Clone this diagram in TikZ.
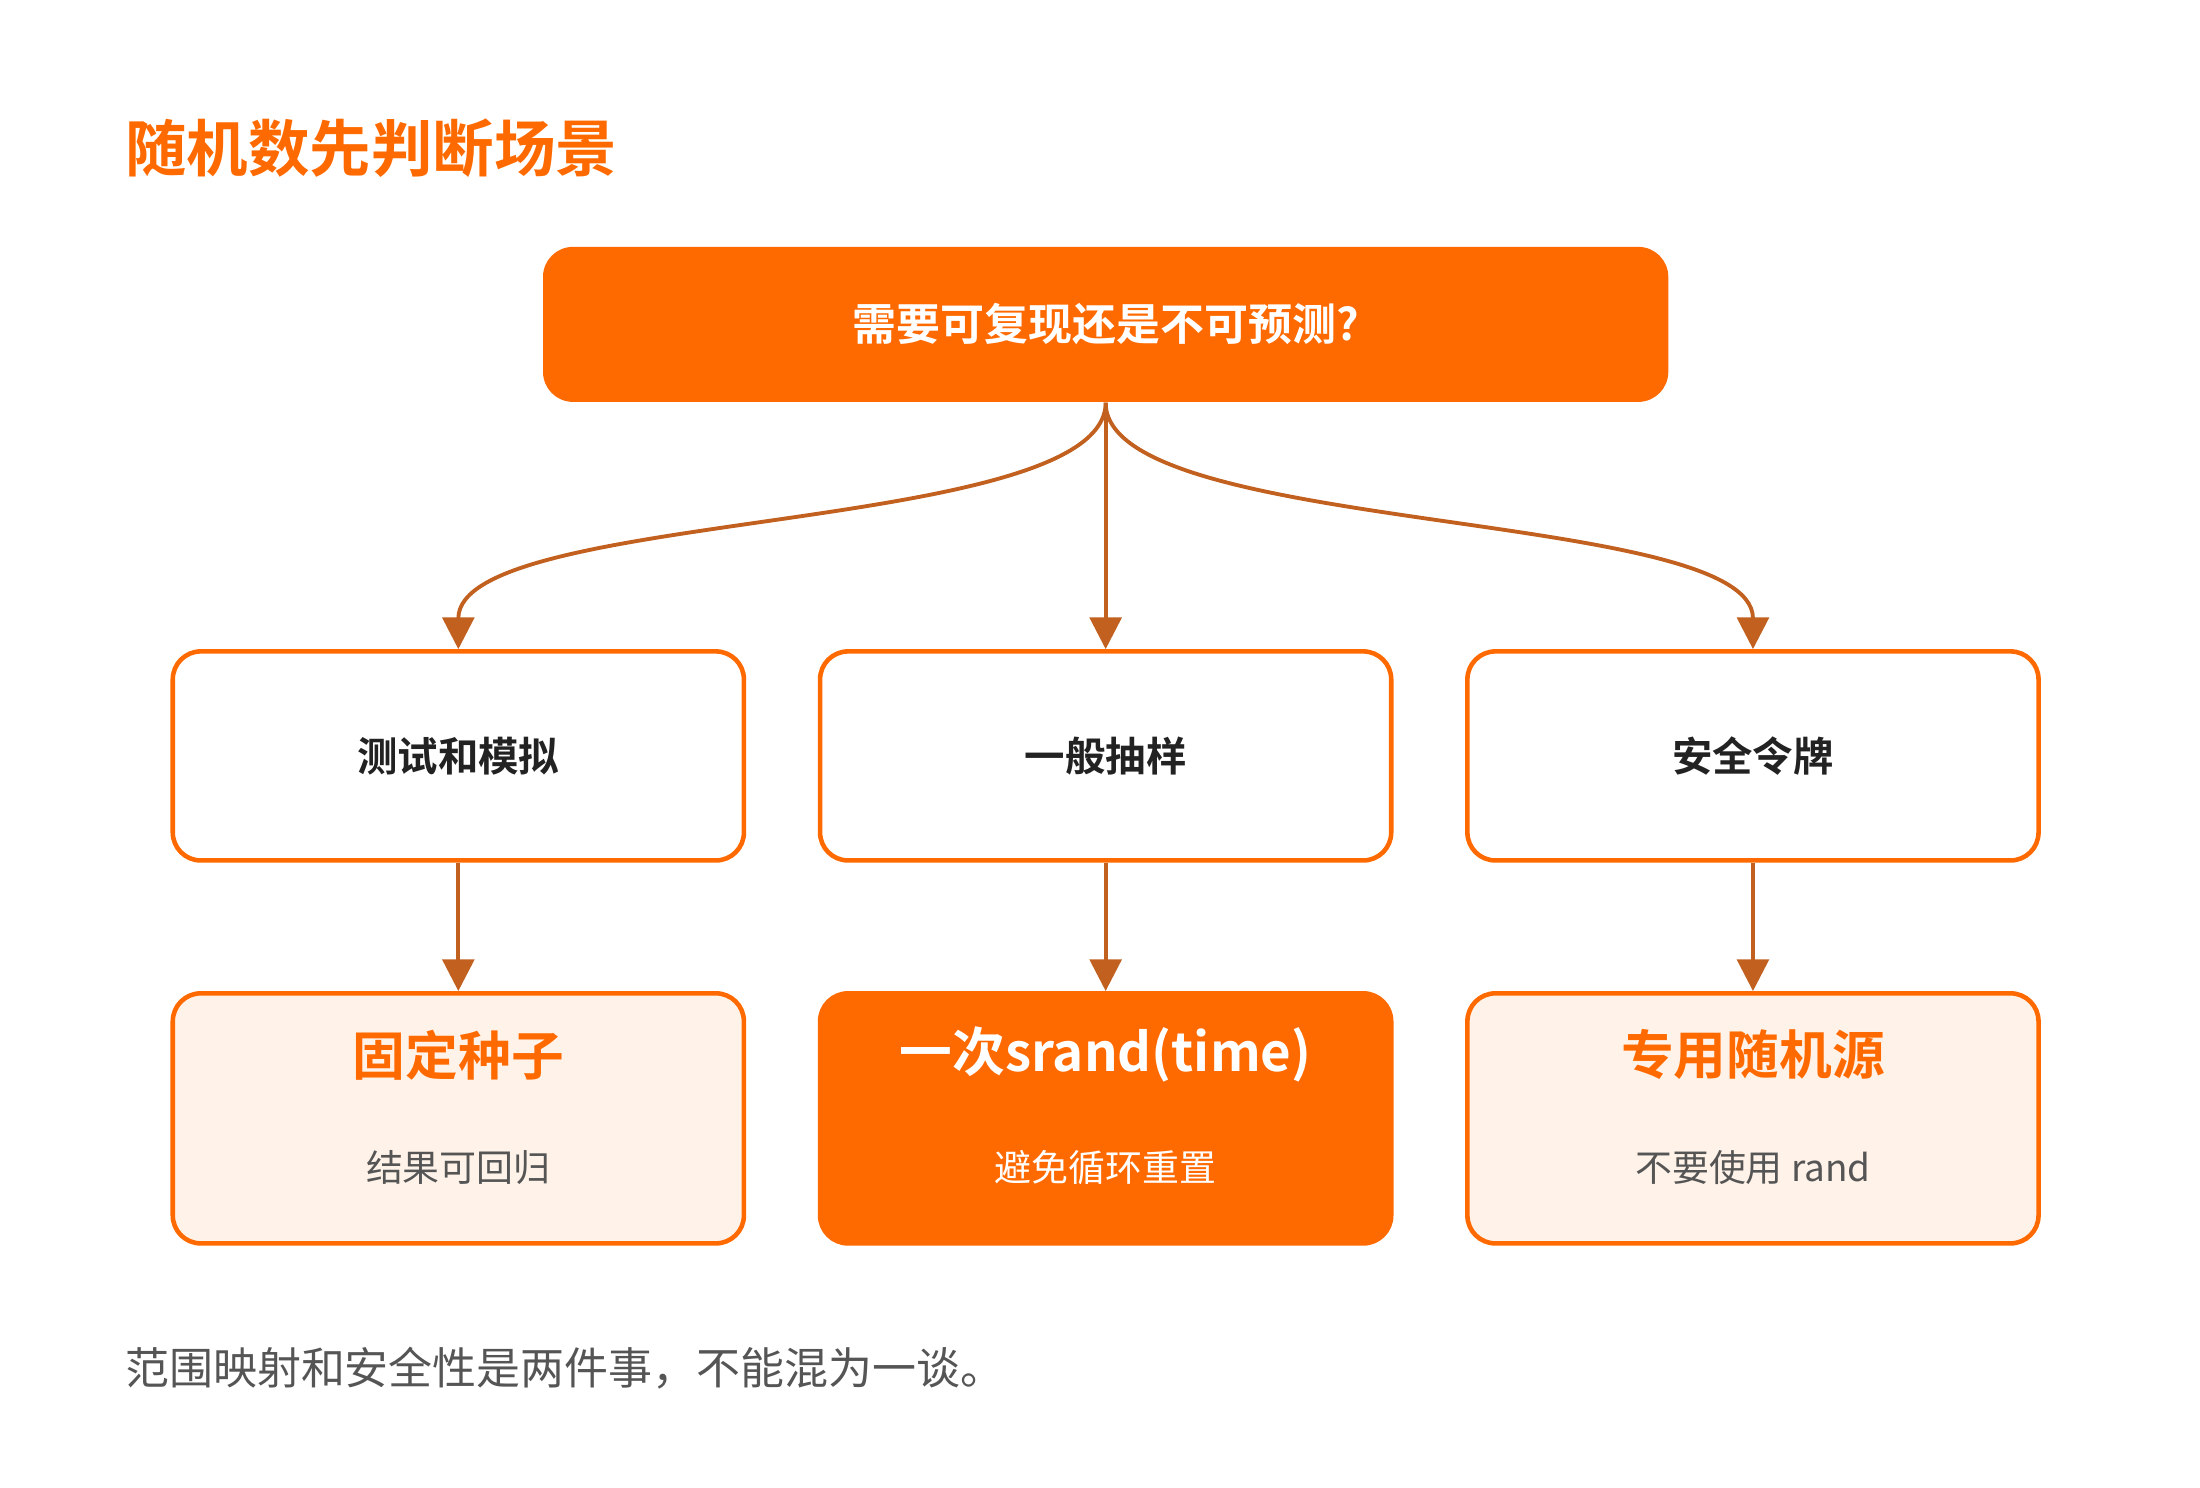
\documentclass[tikz,border=0pt]{standalone}
\usepackage{fontspec}
\setmainfont{Noto Sans CJK SC}[BoldFont={Noto Sans CJK SC Bold}]
\usetikzlibrary{arrows.meta,positioning}
\definecolor{mainorange}{HTML}{FF6A00}
\definecolor{linkbrown}{HTML}{C2611F}
\definecolor{softfill}{HTML}{FFF2E8}
\definecolor{darktext}{HTML}{222222}
\definecolor{greytext}{HTML}{555555}
\tikzset{>={Triangle[width=9pt,length=9pt]}}
\tikzstyle{question}=[rectangle,fill=mainorange,text=white,font=\bfseries\fontsize{12.5}{14}\selectfont,minimum width=11.25cm,minimum height=1.55cm,rounded corners=0.3cm]
\tikzstyle{scene}=[rectangle,draw=mainorange,fill=white,line width=1.3pt,text=darktext,font=\bfseries\fontsize{11.5}{13}\selectfont,minimum width=5.71cm,minimum height=2.09cm,rounded corners=0.28cm]
\tikzstyle{answer}=[rectangle,draw=mainorange,fill=softfill,line width=1.3pt,minimum width=5.71cm,minimum height=2.5cm,rounded corners=0.28cm]
\tikzstyle{answerhot}=[answer,fill=mainorange]
\tikzstyle{head}=[font=\bfseries\fontsize{15}{17}\selectfont,text=mainorange]
\tikzstyle{note}=[font=\fontsize{10.5}{12}\selectfont,text=greytext]
\tikzstyle{link}=[->,draw=linkbrown,line width=1.1pt]

\begin{document}
\begin{tikzpicture}[x=0.0141cm,y=-0.0141cm]
\useasboundingbox (0,0) rectangle (1560,1055);

\node[anchor=west,font=\bfseries\fontsize{17.5}{20}\selectfont,text=mainorange] (title) at (80,105) {随机数先判断场景};

\node[question] (ask) at (784,230) {需要可复现还是不可预测?};

\node[scene] (test) at (325,536) {测试和模拟};
\node[scene] (sample) at (784,536) {一般抽样};
\node[scene] (token) at (1243,536) {安全令牌};

\node[answer] (seed) at (325,793) {};
\node[answerhot] (once) at (784,793) {};
\node[answer] (source) at (1243,793) {};

\node[head] (seedhead) at (325,748) {固定种子};
\node[note] (seednote) at (325,828) {结果可回归};
\node[head,text=white] (oncehead) at (784,748) {一次srand(time)};
\node[note,text=white] (oncenote) at (784,828) {避免循环重置};
\node[head] (sourcehead) at (1243,748) {专用随机源};
\node[note] (sourcenote) at (1243,828) {不要使用 rand};

\draw[link] (ask.south) .. controls (784,380) and (325,360) .. (test.north);
\draw[link] (ask.south) -- (sample.north);
\draw[link] (ask.south) .. controls (784,380) and (1243,360) .. (token.north);

\draw[link] (test) -- (seed);
\draw[link] (sample) -- (once);
\draw[link] (token) -- (source);

\node[anchor=west,font=\fontsize{12.5}{14}\selectfont,text=greytext] (footer) at (80,970) {范围映射和安全性是两件事，不能混为一谈。};
\end{tikzpicture}
\end{document}
